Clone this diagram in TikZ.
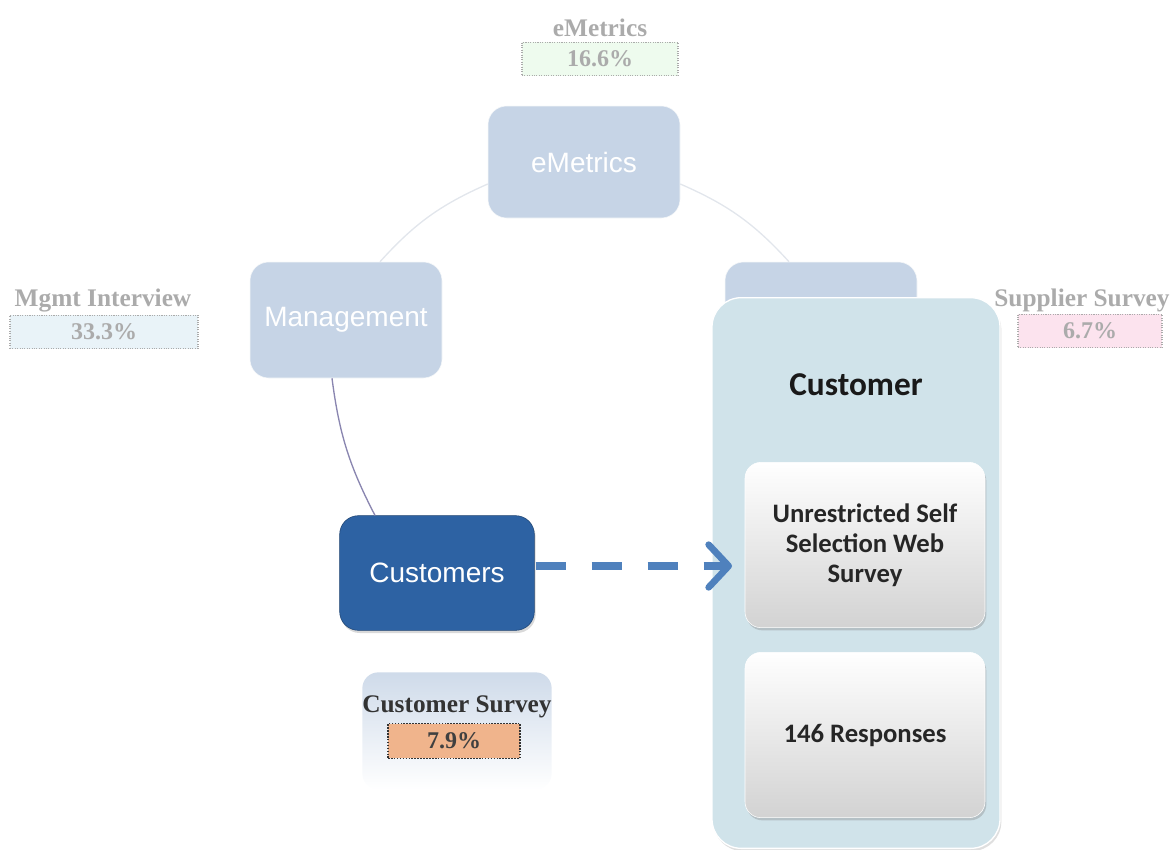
\documentclass[tikz,border=0pt]{standalone}
\usepackage{fontspec}
\setmainfont{Liberation Serif}
\newfontfamily\arialf{Liberation Sans}
\newfontfamily\calf{Carlito}
\usetikzlibrary{calc,shadows,arrows.meta}
\definecolor{fadebox}{HTML}{C6D4E6}
\definecolor{darkblue}{HTML}{2D62A3}
\definecolor{arrowblue}{HTML}{4F81BD}
\definecolor{panel}{HTML}{D0E3EA}
\definecolor{graytxt}{HTML}{ABABAB}
\definecolor{arcgray}{HTML}{E2E6EC}
\definecolor{arcpurple}{HTML}{8A86B0}
\definecolor{greenfill}{HTML}{EEFBEE}
\definecolor{bluefill}{HTML}{E9F3F8}
\definecolor{pinkfill}{HTML}{FCE3EE}
\definecolor{salmon}{HTML}{F0B48C}
\tikzset{
  fadenode/.style={draw=fadebox!85!black!10!white, fill=fadebox, rounded corners=14pt, minimum width=144pt, minimum height=84pt, text=white, font=\arialf\fontsize{21}{24}\selectfont, inner sep=0pt},
  pctbox/.style={draw=graytxt, densely dotted, line width=0.8pt, minimum height=25pt, inner sep=0pt, font=\bfseries\fontsize{18}{20}\selectfont, text=graytxt},
  lbltxt/.style={font=\bfseries\fontsize{19}{20}\selectfont, text=graytxt, inner sep=0pt},
  whitebox/.style={rounded corners=12pt, top color=white, bottom color=gray!35, draw=white, minimum width=180pt, minimum height=124pt, inner sep=0pt, align=center, font=\calf\bfseries\fontsize{20}{22.5}\selectfont, text=black!85, drop shadow={shadow xshift=1pt, shadow yshift=-2pt, opacity=0.35}},
  arcline/.style={draw=arcgray, line width=1pt},
}
\begin{document}
\begin{tikzpicture}[x=0.75pt,y=-0.75pt]
\useasboundingbox (0,0) rectangle (1172,850);
% nodes (positions in px)
\node[fadenode] (emet) at (584,162) {eMetrics};
\node[fadenode, minimum height=87pt] (mgmt) at (346,320) {Management};
\node[fadenode, minimum height=87pt] (supp) at (821,320) {};
% arcs
\draw[arcline] ($(mgmt.north)+(34,0)$) to[bend left=12] ($(emet.west)+(0,22)$);
\draw[arcline] ($(emet.east)+(0,22)$) to[bend left=12] ($(supp.north)+(-32,0)$);
\node[fadenode, draw=darkblue!70!black, fill=darkblue, minimum width=146pt, minimum height=86pt, drop shadow={shadow xshift=1pt, shadow yshift=-2pt, opacity=0.3}] (cust) at (437,573) {Customers};
\draw[draw=arcpurple, line width=1pt] ($(mgmt.south)+(-14,0)$) to[bend right=10] ($(cust.north)+(-62,0)$);
% labels
\node[lbltxt] (emetlbl) at (600,28) {eMetrics};
\node[pctbox, fill=greenfill, minimum width=117pt] (emetpct) at (600,59) {16.6\%};
\node[lbltxt] (mgmtlbl) at (103,301) {Mgmt Interview};
\node[pctbox, fill=bluefill, minimum width=141pt] (mgmtpct) at (104,332) {33.3\%};
\node[pctbox, fill=pinkfill, minimum width=108pt] (supppct) at (1090,331) {6.7\%};
\node[lbltxt] (supplbl) at (1082,300) {Supplier Survey};
% customer panel
\node[rounded corners=22pt, fill=panel, draw=white, line width=1pt, minimum width=216pt, minimum height=413pt, inner sep=0pt, drop shadow={shadow xshift=1pt, shadow yshift=-2pt, opacity=0.25}] (panel) at (856,573) {};
\node[font=\calf\bfseries\fontsize{25}{27}\selectfont, text=black!90] (ptitle) at (856,385) {Customer};
\node[whitebox] (web) at (865,545) {Unrestricted Self\\Selection Web\\Survey};
\node[whitebox] (resp) at (865,735) {146 Responses};
% dashed arrow
\coordinate (arrtail) at ($(cust.east)+(1,-7)$);
\coordinate (arrtip) at (732,566);
\draw[arrowblue, line width=6pt, dash pattern=on 23pt off 19pt, -{Straight Barb[length=15pt, width=32pt, line width=5pt, round]}] (arrtail) -- (arrtip);
% customer survey
\node[rounded corners=12pt, top color=fadebox!85, bottom color=white, minimum width=142pt, minimum height=88pt, inner sep=0pt] (csbg) at (457,731) {};
\node[font=\bfseries\fontsize{19}{20}\selectfont, text=black!80, inner sep=0pt] (cslbl) at (457,707) {Customer Survey};
\node[draw=black!80, densely dotted, line width=1.2pt, fill=salmon, minimum width=99pt, minimum height=26pt, inner sep=0pt, font=\bfseries\fontsize{18}{20}\selectfont, text=black!75] (cspct) at (454,741) {7.9\%};
\end{tikzpicture}
\end{document}
